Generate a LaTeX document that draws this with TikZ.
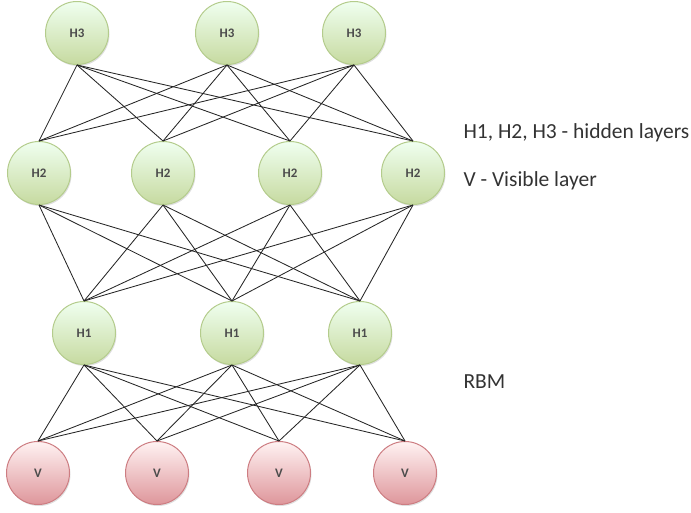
\documentclass[tikz,border=0pt]{standalone}
\usepackage{fontspec}
\setmainfont{Carlito}
\usetikzlibrary{shadows}

\tikzset{
	unit/.style={circle, minimum size=63pt, inner sep=0pt, line width=1pt,
		font=\fontsize{13}{13}\selectfont\bfseries, text=black!70,
		drop shadow={shadow xshift=1pt, shadow yshift=-1.5pt, opacity=.25}},
	hidden/.style={unit, top color=green!6!white, bottom color=hidgreen, draw=hidedge},
	visible/.style={unit, top color=red!5!white, bottom color=vispink, draw=visedge},
	link/.style={black!85, line width=.85pt},
	legend/.style={anchor=west, text=black!80, font=\fontsize{21.5}{23}\selectfont}
}
\definecolor{hidgreen}{RGB}{198,218,160}
\definecolor{hidedge}{RGB}{180,204,140}
\definecolor{vispink}{RGB}{222,150,155}
\definecolor{visedge}{RGB}{205,125,130}

\begin{document}
\begin{tikzpicture}[x=1pt, y=-1pt]
		\useasboundingbox (0,0) rectangle (691,512);

		% hidden layer 3
		\node[hidden] (c1) at (77,33) {H3};
		\node[hidden] (c2) at (227,33) {H3};
		\node[hidden] (c3) at (354,33) {H3};

		% hidden layer 2
		\node[hidden] (b1) at (39,173) {H2};
		\node[hidden] (b2) at (163,173) {H2};
		\node[hidden] (b3) at (290,173) {H2};
		\node[hidden] (b4) at (413,173) {H2};

		% hidden layer 1
		\node[hidden] (a1) at (84,333) {H1};
		\node[hidden] (a2) at (232,333) {H1};
		\node[hidden] (a3) at (360,333) {H1};

		% visible layer
		\node[visible] (v1) at (38,473) {V};
		\node[visible] (v2) at (157,473) {V};
		\node[visible] (v3) at (279,473) {V};
		\node[visible] (v4) at (405,473) {V};

		\foreach \i in {1,2,3}
			\foreach \j in {1,2,3,4} {
				\draw[link] (c\i.south) -- (b\j.north);
				\draw[link] (b\j.south) -- (a\i.north);
				\draw[link] (a\i.south) -- (v\j.north);
			}

		\node[legend] (hl) at (460,133) {H1, H2, H3 - hidden layers};
		\node[legend] (vl) at (460,181) {V - Visible layer};
		\node[legend] (rbm) at (460,382) {RBM};
	\end{tikzpicture}
\end{document}
